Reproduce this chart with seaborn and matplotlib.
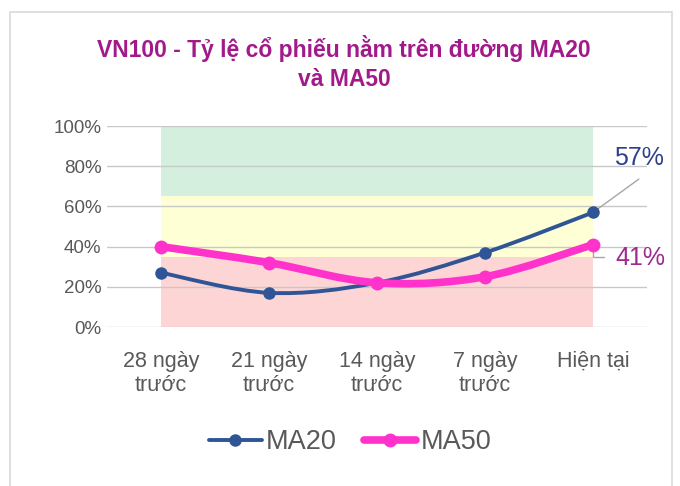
import numpy as np
import pandas as pd
import matplotlib
matplotlib.use("Agg")
import matplotlib.pyplot as plt
from matplotlib.path import Path
from matplotlib.patches import PathPatch, Rectangle
from matplotlib.lines import Line2D
from matplotlib.ticker import PercentFormatter
import seaborn as sns

# data
categories = ["28 ngày\ntrước", "21 ngày\ntrước", "14 ngày\ntrước", "7 ngày\ntrước", "Hiện tại"]
ma20 = [0.27, 0.17, 0.22, 0.37, 0.57]
ma50 = [0.40, 0.32, 0.22, 0.25, 0.41]
zone_edges = [0.0, 0.35, 0.65, 1.0]
zone_colors = ["#FDD5D5", "#FEFFD4", "#D5EFDF"]
y_ticks = [0, 0.2, 0.4, 0.6, 0.8, 1.0]

title = "VN100 - Tỷ lệ cổ phiếu nằm trên đường MA20\nvà MA50"
blue = "#2F5597"
pink = "#FF33CC"


def smooth_path(xs, ys):
    # Excel-style smoothed line: Catmull-Rom segments as cubic Beziers
    pts = np.column_stack([xs, ys]).astype(float)
    padded = np.vstack([pts[:1], pts, pts[-1:]])
    verts = [pts[0]]
    codes = [Path.MOVETO]
    for i in range(len(pts) - 1):
        p0, p1, p2, p3 = padded[i], padded[i + 1], padded[i + 2], padded[i + 3]
        verts += [p1 + (p2 - p0) / 6, p2 - (p3 - p1) / 6, p2]
        codes += [Path.CURVE4] * 3
    return Path(verts, codes)


sns.set_theme(style="white")
plt.rcParams["font.family"] = ["Liberation Sans", "DejaVu Sans"]

x = np.arange(len(categories))
df = pd.DataFrame({"x": x, "MA20": ma20, "MA50": ma50})

fig = plt.figure(figsize=(6.8, 4.86), dpi=100)
ax = fig.add_axes([107 / 680, 1 - 327 / 486, 540 / 680, 201 / 486])

# background zones
for lo, hi, c in zip(zone_edges[:-1], zone_edges[1:], zone_colors):
    ax.fill_between([x[0], x[-1]], lo, hi, color=c, lw=0, zorder=0.1)

# smoothed lines + markers
for col, color, lw, ms, z in [("MA20", blue, 2.8, 9, 3), ("MA50", pink, 5.5, 10, 4)]:
    ax.add_patch(PathPatch(smooth_path(df["x"], df[col]), facecolor="none",
                           edgecolor=color, lw=lw, capstyle="round", zorder=z))
    sns.lineplot(data=df, x="x", y=col, ax=ax, color=color, marker="o",
                 markersize=ms, markeredgewidth=0, linestyle="", legend=False, zorder=z + 0.5)

ax.set_xlim(-0.5, len(categories) - 0.5)
ax.set_ylim(0, 1)
ax.set_xticks(x)
ax.set_xticklabels(categories, fontsize=15.5, color="#595959", linespacing=1.2)
ax.set_yticks(y_ticks)
ax.yaxis.set_major_formatter(PercentFormatter(1.0, decimals=0))
ax.tick_params(axis="y", labelsize=13.5, labelcolor="#595959", pad=4, length=0)
ax.tick_params(axis="x", pad=17, length=0)
ax.set_xlabel("")
ax.set_ylabel("")
ax.grid(axis="y", color="#C8C8C8", lw=1)
ax.set_axisbelow(True)
for ln in ax.get_ygridlines():
    ln.set_zorder(1)
sns.despine(ax=ax, left=True, bottom=True)

# end labels with leader lines
leader = dict(color="#A6A6A6", lw=1)
ax.annotate(f"{ma20[-1]:.0%}", xy=(x[-1], ma20[-1]), xytext=(33, 39), textcoords="offset points",
            ha="center", va="center", fontsize=18, color="#2E3F8E")
ax.annotate("", xy=(x[-1], ma20[-1]), xytext=(33, 24), textcoords="offset points",
            arrowprops=dict(arrowstyle="-", shrinkA=0, shrinkB=4, **leader))
ax.annotate(f"{ma50[-1]:.0%}", xy=(x[-1], ma50[-1]), xytext=(34, -10), textcoords="offset points",
            ha="center", va="center", fontsize=18, color="#9E2A8E")
ax.annotate("", xy=(x[-1], ma50[-1]), xytext=(8, -9), textcoords="offset points",
            arrowprops=dict(arrowstyle="-", shrinkA=0, shrinkB=4,
                            connectionstyle="angle,angleA=0,angleB=90,rad=0", **leader))

fig.text(344 / 680, 1 - 63 / 486, title, ha="center", va="center", fontsize=16.5,
         fontweight="bold", color="#A2198A", linespacing=1.3)

handles = [Line2D([], [], color=blue, lw=2.8, marker="o", markersize=9, markeredgewidth=0),
           Line2D([], [], color=pink, lw=5.5, marker="o", markersize=10, markeredgewidth=0)]
fig.legend(handles, ["MA20", "MA50"], loc="center", bbox_to_anchor=(350 / 680, 1 - 442 / 486),
           ncol=2, frameon=False, fontsize=19.5, handlelength=1.95, handletextpad=0.15,
           columnspacing=1.0, labelcolor="#595959")

fig.patches.append(Rectangle((10 / 680, -0.02), 662 / 680, 1.02 - 12 / 486, transform=fig.transFigure,
                             fill=False, edgecolor="#D9D9D9", lw=1.2))

fig.savefig("out.png", dpi=100)
